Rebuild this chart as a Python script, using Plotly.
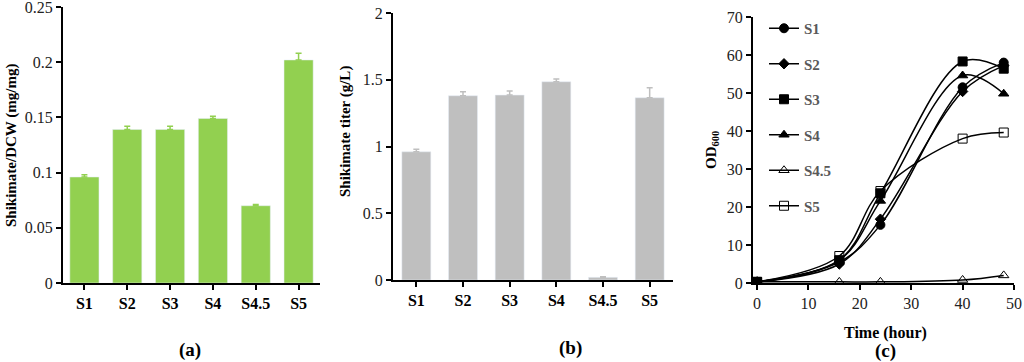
import plotly.graph_objects as go

# panel (a) / (b) bar data
strains = ["S1", "S2", "S3", "S4", "S4.5", "S5"]
dcw_ratio = [0.096, 0.139, 0.139, 0.149, 0.070, 0.202]
dcw_err = [0.002, 0.003, 0.003, 0.002, 0.001, 0.006]
titer = [0.96, 1.38, 1.385, 1.485, 0.02, 1.365]
titer_err = [0.02, 0.03, 0.03, 0.02, 0.005, 0.075]

# panel (c) growth curves
hours = [0, 16, 24, 40, 48]
od_s1 = [0.3, 5.5, 15.3, 51.5, 58.0]
od_s2 = [0.3, 5.0, 16.8, 50.4, 57.2]
od_s3 = [0.3, 6.0, 23.6, 58.3, 56.4]
od_s4 = [0.3, 6.0, 21.6, 54.6, 49.8]
od_s45 = [0.3, 0.3, 0.3, 0.8, 2.0]
od_s5 = [0.3, 7.1, 24.2, 38.0, 39.6]

FONT = "Liberation Serif"
W, H = 1024, 362

def px_x(p):
    return min(1.0, max(0.0, p / W))

def px_y(p):
    return min(1.0, max(0.0, (H - p) / H))

fig = go.Figure()

fig.add_trace(go.Bar(
    x=strains, y=dcw_ratio, marker_color="#92D050", showlegend=False,
    width=0.68,
    error_y=dict(type="data", array=dcw_err, arrayminus=[0]*6,
                 color="#92D050", thickness=1.5, width=3),
    xaxis="x", yaxis="y"))

fig.add_trace(go.Bar(
    x=strains, y=titer, marker_color="#BFBFBF", showlegend=False,
    width=0.62,
    error_y=dict(type="data", array=titer_err, arrayminus=[0]*6,
                 color="#BFBFBF", thickness=1.5, width=3),
    xaxis="x2", yaxis="y2"))

curves = [
    ("S1", od_s1, "circle", 9),
    ("S2", od_s2, "diamond", 8),
    ("S3", od_s3, "square", 9),
    ("S4", od_s4, "triangle-up", 9),
    ("S4.5", od_s45, "triangle-up-open", 9),
    ("S5", od_s5, "square-open", 9),
]
for name, vals, sym, size in curves:
    fig.add_trace(go.Scatter(
        x=hours, y=vals, name=name, mode="lines+markers",
        line=dict(color="black", width=1.5, shape="spline", smoothing=1),
        marker=dict(symbol=sym, size=size, color="black",
                    line=dict(color="black", width=1)),
        legendgroup=name, xaxis="x3", yaxis="y3"))

axis_common = dict(showline=True, linecolor="black", linewidth=2,
                   ticks="outside", ticklen=5, tickwidth=1.5, tickcolor="black",
                   showgrid=False, zeroline=False, automargin=False,
                   ticklabeloverflow="allow",
                   tickfont=dict(family=FONT, size=16, color="#222222"))
cat_font = dict(family=FONT, size=16, color="black", weight="bold")

fig.update_layout(
    width=W, height=H,
    margin=dict(l=0, r=0, t=0, b=0, autoexpand=False),
    plot_bgcolor="white", paper_bgcolor="white",
    xaxis=dict(axis_common, domain=[px_x(63), px_x(320)], anchor="y",
               tickfont=cat_font),
    yaxis=dict(axis_common, domain=[px_y(283), px_y(7)], anchor="x",
               range=[0, 0.25], dtick=0.05),
    xaxis2=dict(axis_common, domain=[px_x(393), px_x(673)], anchor="y2",
                tickfont=cat_font),
    yaxis2=dict(axis_common, domain=[px_y(280), px_y(13)], anchor="x2",
                range=[0, 2], dtick=0.5),
    xaxis3=dict(axis_common, domain=[px_x(753), px_x(1014)], anchor="y3",
                range=[-0.8, 50], dtick=10),
    yaxis3=dict(axis_common, domain=[px_y(283), px_y(17)], anchor="x3",
                range=[0, 70], dtick=10),
    legend=dict(x=px_x(764), y=px_y(12), xanchor="left", yanchor="top",
                bgcolor="rgba(0,0,0,0)", tracegroupgap=13,
                font=dict(family=FONT, size=15, color="#595959", weight="bold")),
)

title_font = dict(family=FONT, size=15, color="black", weight="bold")
cap_font = dict(family=FONT, size=19, color="black", weight="bold")
notes = [
    dict(x=px_x(11), y=px_y(146), text="Shikimate/DCW (mg/mg)", textangle=-90, font=title_font),
    dict(x=px_x(346), y=px_y(132), text="Shikimate titer (g/L)", textangle=-90, font=title_font),
    dict(x=px_x(712), y=px_y(150), text="OD<sub>600</sub>", textangle=-90, font=title_font),
    dict(x=px_x(885), y=px_y(333), text="Time (hour)", font=dict(title_font, size=16)),
    dict(x=px_x(190), y=px_y(350), text="(a)", font=cap_font),
    dict(x=px_x(570), y=px_y(348), text="(b)", font=cap_font),
    dict(x=px_x(885), y=px_y(351), text="(c)", font=cap_font),
]
for n in notes:
    fig.add_annotation(xref="paper", yref="paper", showarrow=False,
                       xanchor="center", yanchor="middle", **n)

# drop the default page margin so the figure sits at the window's corner
fig.write_html("out.html", config={"displayModeBar": False},
               post_script="document.body.style.margin='0';")
